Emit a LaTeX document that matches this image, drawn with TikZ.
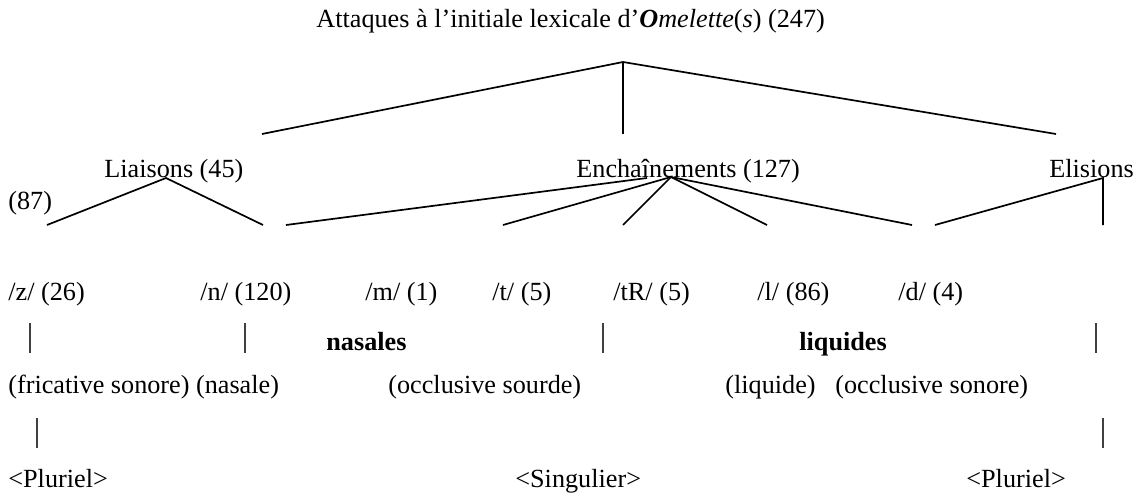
\documentclass[tikz,border=0pt]{standalone}
\usepackage{fontspec}
\setmainfont{Liberation Serif}
\usepackage{tikz}
\usetikzlibrary{positioning,calc}

\tikzset{
  lbl/.style={anchor=base west, inner sep=0pt, font=\fontsize{13.1}{15}\selectfont},
  branch/.style={line width=0.85pt},
  bar/.style={line width=0.55pt, black!75}
}

\begin{document}
\begin{tikzpicture}[x=0.5pt, y=-0.5pt]
    \useasboundingbox (0,0) rectangle (1137,493);

    % Title
    \node[lbl] (title) at (316,27) {Attaques à l’initiale lexicale d’\textbf{\textit{O}}\textit{melette}(\textit{s}) (247)};

    % Labels Row 1
    \node[lbl] (liaisons) at (104,177) {Liaisons (45)};
    \node[lbl] (enchainements) at (576,177) {Enchaînements (127)};
    \node[lbl] (elisions) at (1049,177) {Elisions};
    \node[lbl] (n87) at (8,209) {(87)};

    % Labels Row 2
    \node[lbl] (z) at (8,300) {/z/ (26)};
    \node[lbl] (n) at (200,300) {/n/ (120)};
    \node[lbl] (m) at (365,300) {/m/ (1)};
    \node[lbl] (t) at (492,300) {/t/ (5)};
    \node[lbl] (tR) at (613,300) {/tR/ (5)};
    \node[lbl] (l) at (757,300) {/l/ (86)};
    \node[lbl] (d) at (898,300) {/d/ (4)};

    % Labels Row 3
    \node[lbl] (nasales) at (326,350) {\bfseries nasales};
    \node[lbl] (liquides) at (799,350) {\bfseries liquides};

    % Labels Row 4
    \node[lbl] (fricnas) at (8,393) {(fricative sonore) (nasale)};
    \node[lbl] (occsourde) at (388,393) {(occlusive sourde)};
    \node[lbl] (liquide) at (725,393) {(liquide)};
    \node[lbl] (occsonore) at (835,393) {(occlusive sonore)};

    % Labels Row 5
    \node[lbl] (plurielA) at (8,487) {<Pluriel>};
    \node[lbl] (singulier) at (515,487) {<Singulier>};
    \node[lbl] (plurielB) at (966,487) {<Pluriel>};

    % Branch points
    \coordinate (racine) at (623,62);
    \coordinate (liaisonsTop) at (166,178);
    \coordinate (enchTop) at (671,177);
    \coordinate (enchLeft) at (647,178);
    \coordinate (elisionsTop) at (1103,178);

    % Branch ends
    \coordinate (rLia) at (262,134);
    \coordinate (rEnch) at (623,134);
    \coordinate (rEli) at (1056,134);
    \coordinate (eZ) at (47,225);
    \coordinate (eN) at (263,225);
    \coordinate (eN2) at (286,225);
    \coordinate (eM) at (503,225);
    \coordinate (eT) at (623,225);
    \coordinate (eTR) at (767,225);
    \coordinate (eL) at (912,225);
    \coordinate (eD) at (935,225);
    \coordinate (eE) at (1103,225);

    % Tree
    \draw[branch] (rLia) -- (racine) -- (rEli);
    \draw[branch] (racine) -- (rEnch);
    \draw[branch] (eZ) -- (liaisonsTop) -- (eN);
    \draw[branch] (eN2) -- (enchLeft);
    \foreach \e in {eM,eT,eTR,eL}
        \draw[branch] (enchTop) -- (\e);
    \draw[branch] (eD) -- (elisionsTop) -- (eE);

    % Vertical bars
    \foreach \x in {30,245,603,1096}
        \draw[bar] (\x,323) -- (\x,353);
    \foreach \x in {37,1103}
        \draw[bar] (\x,418) -- (\x,448);
\end{tikzpicture}
\end{document}
